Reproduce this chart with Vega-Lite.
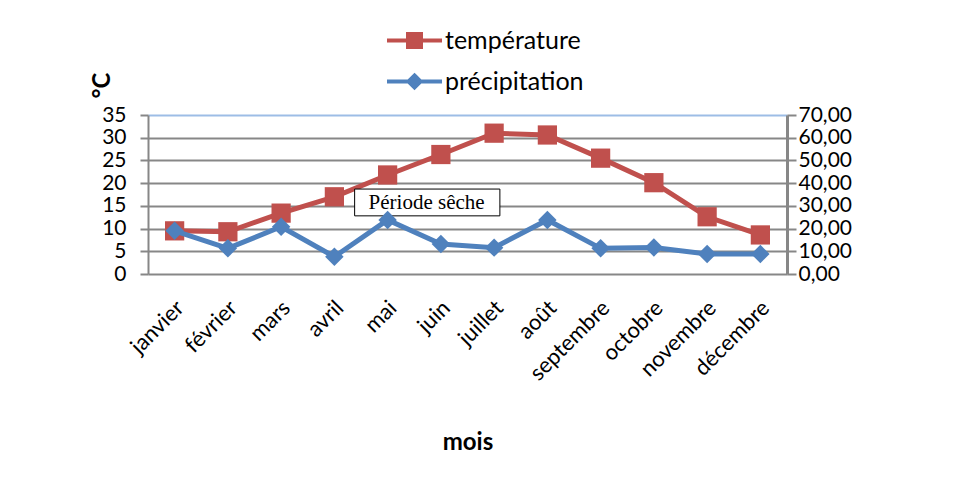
{
  "$schema": "https://vega.github.io/schema/vega-lite/v6.json",
  "autosize": {"type": "none"},
  "width": 639,
  "height": 159,
  "padding": {"left": 148, "top": 115, "right": 171, "bottom": 208},
  "background": "white",
  "config": {
    "font": "Lato",
    "view": {"stroke": null},
    "axis": {"labelColor": "black", "titleColor": "black", "labelFont": "Lato", "titleFont": "Lato"}
  },
  "data": {
    "values": [
      {"mois": "janvier", "temperature": 9.5, "precipitation": 19.0},
      {"mois": "février", "temperature": 9.3, "precipitation": 11.3},
      {"mois": "mars", "temperature": 13.4, "precipitation": 20.8},
      {"mois": "avril", "temperature": 17.0, "precipitation": 7.6},
      {"mois": "mai", "temperature": 21.8, "precipitation": 23.8},
      {"mois": "juin", "temperature": 26.3, "precipitation": 13.2},
      {"mois": "juillet", "temperature": 31.0, "precipitation": 11.6},
      {"mois": "août", "temperature": 30.6, "precipitation": 23.8},
      {"mois": "septembre", "temperature": 25.5, "precipitation": 11.3},
      {"mois": "octobre", "temperature": 20.1, "precipitation": 11.7},
      {"mois": "novembre", "temperature": 12.6, "precipitation": 8.8},
      {"mois": "décembre", "temperature": 8.6, "precipitation": 8.8}
    ]
  },
  "encoding": {
    "x": {
      "field": "mois",
      "type": "nominal",
      "sort": null,
      "scale": {"type": "point", "padding": 0.5},
      "axis": {
        "title": "mois",
        "titleFontSize": 24,
        "titleFontWeight": "bold",
        "titleY": 168,
        "titleBaseline": "middle",
        "labelAngle": -45,
        "labelAlign": "right",
        "labelBaseline": "middle",
        "labelFontSize": 22,
        "labelPadding": 30,
        "labelOffset": 5,
        "labelOverlap": false,
        "domain": false,
        "ticks": false,
        "grid": false
      }
    }
  },
  "layer": [
    {
      "encoding": {
        "y": {
          "field": "temperature",
          "type": "quantitative",
          "scale": {"domain": [0, 35], "nice": false},
          "axis": {
            "title": "°C",
            "titleFontSize": 24,
            "titleFontWeight": "bold",
            "titleAngle": -90,
            "titleX": -46,
            "titleY": -30,
            "titleAlign": "center",
            "titleBaseline": "middle",
            "values": [0, 5, 10, 15, 20, 25, 30, 35],
            "labelOverlap": false,
            "labelFontSize": 21,
            "labelPadding": 14,
            "tickSize": 8,
            "tickColor": "#878787",
            "tickWidth": 2,
            "domainColor": "#878787",
            "domainWidth": 2,
            "grid": true,
            "gridColor": {"condition": {"test": "datum.value === 35", "value": "#9dbde6"}, "value": "#878787"},
            "gridWidth": 2
          }
        }
      },
      "layer": [
        {
          "mark": {"type": "line", "strokeWidth": 5},
          "encoding": {
            "color": {
              "datum": "température",
              "type": "nominal",
              "scale": {"domain": ["température", "précipitation"], "range": ["#C0504D", "#4F81BD"]},
              "legend": {
                "title": null,
                "orient": "none",
                "legendX": 254,
                "legendY": -87,
                "padding": 0,
                "labelFontSize": 25,
                "labelFont": "Lato",
                "labelColor": "black",
                "labelOffset": 18,
                "rowPadding": 12,
                "symbolSize": 400,
                "encode": {
                  "symbols": {
                    "update": {
                      "shape": {"signal": "datum.value === 'température' ? 'M-2.75,0H2.75M-0.65,-0.65H0.65V0.65H-0.65Z' : 'M-2.75,0H2.75M0,-0.6L0.6,0L0,0.6L-0.6,0Z'"},
                      "stroke": {"signal": "scale('color', datum.value)"},
                      "fill": {"signal": "scale('color', datum.value)"},
                      "strokeWidth": {"value": 4},
                      "opacity": {"value": 1},
                      "fillOpacity": {"value": 1},
                      "strokeOpacity": {"value": 1}
                    }
                  }
                }
              }
            }
          }
        },
        {
          "mark": {"type": "point", "shape": "square", "filled": true, "size": 370, "opacity": 1},
          "encoding": {"color": {"datum": "température", "type": "nominal"}}
        },
        {
          "transform": [{"filter": "datum.mois === 'mai'"}],
          "mark": {"type": "rect", "fill": "white", "stroke": "black", "strokeWidth": 1, "xOffset": -33, "x2Offset": 59},
          "encoding": {
            "x": {"datum": "mai", "type": "nominal"},
            "x2": {"datum": "juin"},
            "y": {"datum": 18.7, "type": "quantitative"},
            "y2": {"datum": 12.8}
          }
        },
        {
          "transform": [{"filter": "datum.mois === 'mai'"}],
          "mark": {"type": "text", "text": "Période sêche", "font": "Liberation Serif", "fontSize": 21, "color": "black", "dx": 39, "align": "center", "baseline": "middle"},
          "encoding": {
            "x": {"datum": "mai", "type": "nominal"},
            "y": {"datum": 15.7, "type": "quantitative"}
          }
        }
      ]
    },
    {
      "encoding": {
        "y": {
          "field": "precipitation",
          "type": "quantitative",
          "scale": {"domain": [0, 70], "nice": false},
          "axis": {
            "orient": "right",
            "title": null,
            "values": [0, 10, 20, 30, 40, 50, 60, 70],
            "labelOverlap": false,
            "labelExpr": "replace(format(datum.value, '.2f'), '.', ',')",
            "labelFontSize": 21,
            "labelPadding": 2,
            "tickSize": 9,
            "tickColor": "#878787",
            "tickWidth": 2,
            "domainColor": "#878787",
            "domainWidth": 3,
            "grid": false
          }
        }
      },
      "layer": [
        {
          "mark": {"type": "line", "strokeWidth": 5},
          "encoding": {"color": {"datum": "précipitation", "type": "nominal"}}
        },
        {
          "mark": {"type": "point", "shape": "diamond", "filled": true, "size": 340, "opacity": 1},
          "encoding": {"color": {"datum": "précipitation", "type": "nominal"}}
        }
      ]
    }
  ],
  "resolve": {"scale": {"y": "independent"}}
}
